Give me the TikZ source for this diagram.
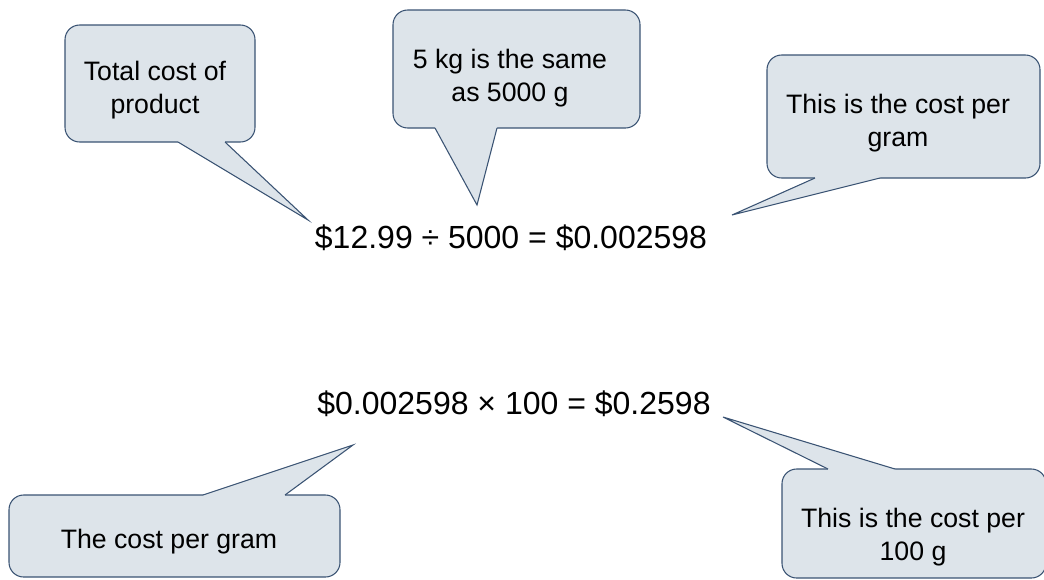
\documentclass[tikz,border=0pt]{standalone}
\usepackage{fontspec}
\setmainfont{Liberation Sans}
\usepackage{tikz}
\definecolor{bubblefill}{RGB}{221,228,234}
\definecolor{bubbleline}{RGB}{58,83,115}

\begin{document}
\begin{tikzpicture}[x=0.75pt, y=-0.75pt,
		bubble/.style={fill=bubblefill, draw=bubbleline, line width=0.8pt, rounded corners=11pt},
		tailfill/.style={fill=bubblefill},
		tailline/.style={draw=bubbleline, line width=0.8pt, line join=miter},
		note/.style={align=center, font=\fontsize{20}{25}\selectfont, inner sep=0pt},
		sum/.style={font=\fontsize{24}{29}\selectfont, inner sep=0pt, anchor=base}]
		\useasboundingbox (0,0) rectangle (1044,579);
		% Sums:
		\node[sum] (div) at (511,248) {\$12.99 ÷ 5000 = \$0.002598};
		\node[sum] (mul) at (514,414) {\$0.002598 × 100 = \$0.2598};
		% Tips of the callouts:
		\coordinate (tiptotal) at (308,220);
		\coordinate (tipkg) at (477,205);
		\coordinate (tipgram) at (732,215);
		\coordinate (tipper) at (353,445);
		\coordinate (tiphundred) at (723,417);
		% Callout: total cost
		\draw[bubble] (65,25) rectangle (255,142);
		\fill[tailfill] (178,138) -- (178,142) -- (tiptotal) -- (225,142) -- (225,138) -- cycle;
		\draw[tailline] (178,142) -- (tiptotal) -- (225,142);
		\node[note] (total) at (155,90) {Total cost of\\product};
		% Callout: kilograms
		\draw[bubble] (393,10) rectangle (640,128);
		\fill[tailfill] (435,124) -- (435,128) -- (tipkg) -- (497,128) -- (497,124) -- cycle;
		\draw[tailline] (435,128) -- (tipkg) -- (497,128);
		\node[note] (kg) at (510,78) {5 kg is the same\\as 5000 g};
		% Callout: cost per gram
		\draw[bubble] (767,55) rectangle (1040,178);
		\fill[tailfill] (815,174) -- (815,178) -- (tipgram) -- (880,178) -- (880,174) -- cycle;
		\draw[tailline] (815,178) -- (tipgram) -- (880,178);
		\node[note] (gram) at (898,123) {This is the cost per\\gram};
		% Callout: the cost per gram
		\draw[bubble] (9,495) rectangle (340,577);
		\fill[tailfill] (203,499) -- (203,495) -- (tipper) -- (285,495) -- (285,499) -- cycle;
		\draw[tailline] (203,495) -- (tipper) -- (285,495);
		\node[note, anchor=base] (per) at (169,548) {The cost per gram};
		% Callout: cost per 100 g
		\draw[bubble] (782,469) rectangle (1046,578);
		\fill[tailfill] (828,473) -- (828,469) -- (tiphundred) -- (895,469) -- (895,473) -- cycle;
		\draw[tailline] (828,469) -- (tiphundred) -- (895,469);
		\node[note] (hundred) at (913,537) {This is the cost per\\100 g};
	\end{tikzpicture}
\end{document}
